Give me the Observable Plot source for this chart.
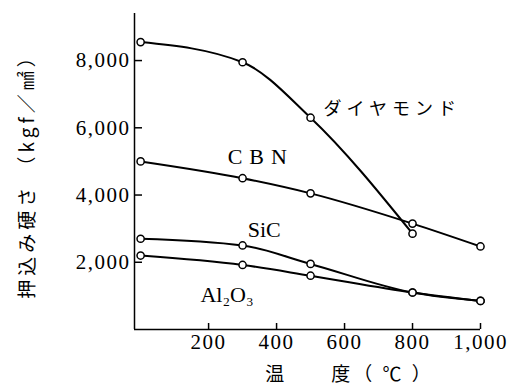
<!DOCTYPE html>
<html><head><meta charset="utf-8">
<script src="https://cdn.jsdelivr.net/npm/d3@7"></script>
<script src="https://cdn.jsdelivr.net/npm/@observablehq/plot@0.6"></script>
<style>body{margin:0;background:#fff}</style>
</head><body><div id="chart"></div>
<script>
// Temperatures (°C) and indentation hardness (kgf/mm²)
const temps = [0, 300, 500, 800, 1000];
const diamond = [8550, 7950, 6300, 2850];
const cbn = [5000, 4500, 4050, 3150, 2470];
const sic = [2700, 2500, 1950, 1100, 850];
const al2o3 = [2200, 1920, 1600, 1100, 850];
const seriesNames = ["ダイヤモンド", "CBN", "SiC", "Al₂O₃"];
const xTicks = [200, 400, 600, 800, 1000];
const yTicks = [2000, 4000, 6000, 8000];
const xDomain = [-18, 1000];
const yDomain = [0, 9400];
const labelX = [538, 256, 315, 176];
const labelY = [6550, 5120, 2950, 1040];
const yTitle = "押込み硬さ （kgf／㎟）";
const xTitle = "温　　度（ ℃ ）";

const seriesVals = [diamond, cbn, sic, al2o3];
const rows = seriesVals.flatMap((vals, s) => vals.map((v, i) => ({name: seriesNames[s], t: temps[i], h: v})));
const labels = seriesNames.map((n, i) => ({name: n, t: labelX[i], h: labelY[i]}));

const serif = "Liberation Serif, Noto Sans CJK JP, serif";
const cjk = "Noto Sans CJK JP, sans-serif";

const plot = Plot.plot({
  width: 523, height: 392,
  marginLeft: 134, marginRight: 43, marginTop: 13, marginBottom: 63,
  style: {fontFamily: serif, color: "black", background: "white"},
  x: {domain: xDomain},
  y: {domain: yDomain},
  marks: [
    Plot.ruleX([xDomain[0]], {stroke: "black", strokeWidth: 1.5}),
    Plot.ruleY([yDomain[0]], {stroke: "black", strokeWidth: 1.5}),
    Plot.axisY(yTicks, {tickSize: -8, tickPadding: 12, tickFormat: d3.format(","), fontSize: 21, label: null, strokeWidth: 1.5}),
    Plot.axisX(xTicks, {tickSize: -6, tickPadding: 11, tickFormat: d3.format(","), fontSize: 21, label: null, strokeWidth: 1.5}),
    Plot.line(rows, {x: "t", y: "h", z: "name", curve: "monotone-x", stroke: "black", strokeWidth: 2}),
    Plot.dot(rows, {x: "t", y: "h", r: 3.6, fill: "white", stroke: "black", strokeWidth: 1.5}),
    Plot.text(labels.slice(0, 1), {x: "t", y: "h", text: "name", textAnchor: "start", fontSize: 18, fontFamily: cjk}),
    Plot.text(labels.slice(1), {x: "t", y: "h", text: "name", textAnchor: "start", fontSize: 22, fontFamily: serif}),
    Plot.text([yTitle], {frameAnchor: "left", textAnchor: "middle", rotate: -90, dx: -107, fontSize: 19, fontFamily: cjk}),
    Plot.text([xTitle], {frameAnchor: "bottom", textAnchor: "middle", dx: 42, dy: 51, fontSize: 19, fontFamily: cjk})
  ]
});
document.getElementById("chart").append(plot);
d3.select(plot).selectAll("text").each(function() {
  const t = this.textContent;
  if (t === "ダイヤモンド") this.setAttribute("letter-spacing", "5");
  else if (t === "CBN") this.setAttribute("letter-spacing", "7");
  else if (/^[0-9,]+$/.test(t)) this.setAttribute("letter-spacing", "1.5");
  else if (t === yTitle) this.setAttribute("letter-spacing", "4");
  else if (t === xTitle) this.setAttribute("letter-spacing", "3");
});
</script></body></html>
